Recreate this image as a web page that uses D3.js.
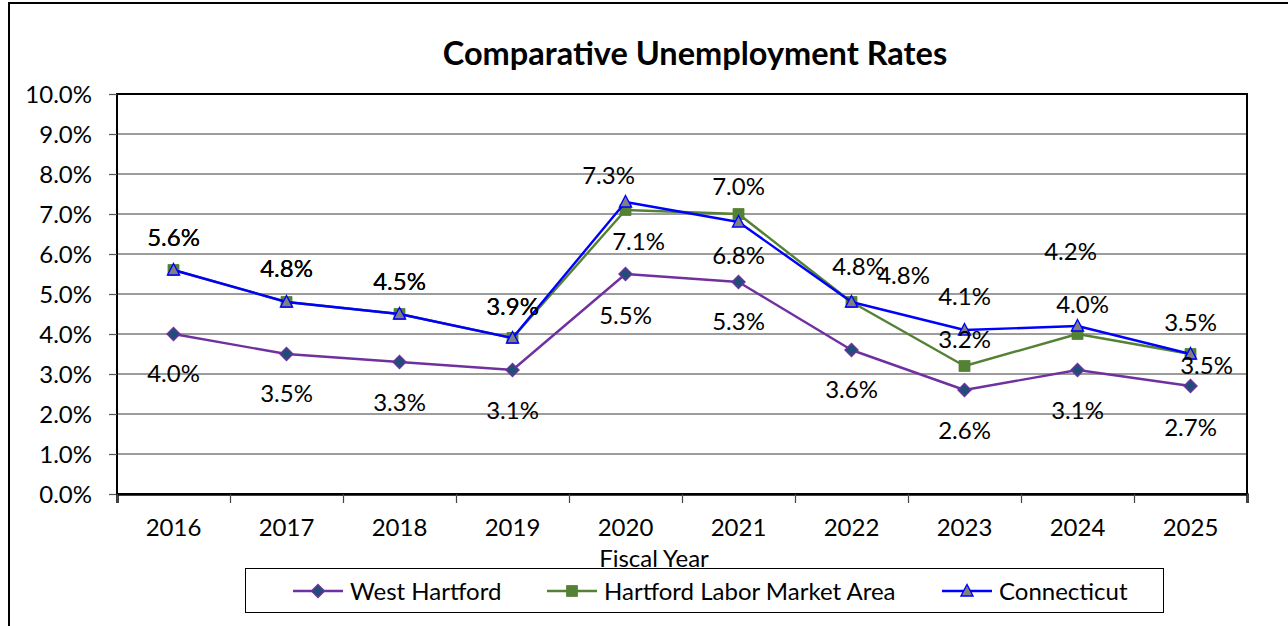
<!DOCTYPE html>
<html>
<head>
<meta charset="utf-8">
<script src="https://cdn.jsdelivr.net/npm/d3@7/dist/d3.min.js"></script>
<style>
  html, body { margin: 0; padding: 0; background: #fff; }
  svg { display: block; }
  text { font-family: Lato, "Open Sans", sans-serif; fill: #000; }
</style>
</head>
<body>
<svg id="chart" width="1288" height="626"></svg>
<script>
// Fiscal years on the category axis
const years = ["2016", "2017", "2018", "2019", "2020", "2021", "2022", "2023", "2024", "2025"];

// Unemployment rates (%)
const westHartford = [4.0, 3.5, 3.3, 3.1, 5.5, 5.3, 3.6, 2.6, 3.1, 2.7];
const hartfordLMA  = [5.6, 4.8, 4.5, 3.9, 7.1, 7.0, 4.8, 3.2, 4.0, 3.5];
const connecticut  = [5.6, 4.8, 4.5, 3.9, 7.3, 6.8, 4.8, 4.1, 4.2, 3.5];

// Value-axis ticks (%)
const yTicks = [0, 1, 2, 3, 4, 5, 6, 7, 8, 9, 10];

// Hand-placed data label nudges [dx, dy] relative to each point
const whLabelNudge   = [[0,39],[0,39],[0,40],[0,40],[0,41],[0,39],[0,39],[0,40],[0,40],[0,41]];
const hlmaLabelNudge = [[0,-33],[0,-34],[0,-33],[0,-32],[13,31],[0,-28],[7,-36],[0,-27],[5,-30],[16,11]];
const ctLabelNudge   = [[0,-33],[0,-34],[0,-33],[0,-32],[-17,-27],[0,33],[52,-27],[0,-34],[-7,-75],[0,-32]];

const svg = d3.select("#chart");
const W = 1288, H = 626;
const plot = { left: 117, right: 1247, top: 94, bottom: 494 };
const FS = 24;

// outer frame (left and top edges)
svg.append("path")
  .attr("d", `M9,${H} L9,3 L${W},3`)
  .attr("fill", "none").attr("stroke", "#000").attr("stroke-width", 2);

// title
svg.append("text")
  .attr("x", 695).attr("y", 65)
  .attr("text-anchor", "middle")
  .attr("font-weight", 700)
  .attr("font-size", 32.5)
  .text("Comparative Unemployment Rates");

const x = d3.scaleBand().domain(years).range([plot.left, plot.right]).padding(0);
const xc = d => x(d) + x.bandwidth() / 2;
const xEdge = d3.scaleLinear().domain([0, years.length]).range([plot.left, plot.right]);
const y = d3.scaleLinear().domain([0, 10]).range([plot.bottom, plot.top]);

// gridlines
svg.append("g")
  .selectAll("line")
  .data(yTicks.filter(t => t > 0 && t < 10))
  .join("line")
  .attr("x1", plot.left).attr("x2", plot.right)
  .attr("y1", d => y(d)).attr("y2", d => y(d))
  .attr("stroke", "#3a3a3a").attr("stroke-width", 1.2);

// plot area frame
svg.append("rect")
  .attr("x", plot.left).attr("y", plot.top)
  .attr("width", plot.right - plot.left).attr("height", plot.bottom - plot.top)
  .attr("fill", "none").attr("stroke", "#000").attr("stroke-width", 2);

// value axis
const yAxis = svg.append("g")
  .attr("transform", `translate(${plot.left},0)`)
  .call(d3.axisLeft(y).tickValues(yTicks).tickFormat(d => d.toFixed(1) + "%").tickSize(8).tickPadding(17));
yAxis.select(".domain").remove();
yAxis.selectAll(".tick line").attr("stroke", "#555").attr("stroke-width", 1.2);
yAxis.selectAll(".tick text")
  .attr("font-family", "Lato, sans-serif").attr("font-size", FS).attr("fill", "#000")
  .attr("dy", "0.36em");

// category axis: ticks between categories, labels centred
const xTickAxis = svg.append("g")
  .attr("transform", `translate(0,${plot.bottom})`)
  .call(d3.axisBottom(xEdge).tickValues(d3.range(years.length + 1)).tickFormat("").tickSize(9));
xTickAxis.select(".domain").attr("stroke", "#000").attr("stroke-width", 2.5);
xTickAxis.selectAll(".tick line").attr("stroke", "#444").attr("stroke-width", 1.2);

const xLabelAxis = svg.append("g")
  .attr("transform", `translate(0,${plot.bottom})`)
  .call(d3.axisBottom(x).tickSize(0).tickPadding(33));
xLabelAxis.select(".domain").remove();
xLabelAxis.selectAll(".tick text")
  .attr("font-family", "Lato, sans-serif").attr("font-size", FS).attr("fill", "#000")
  .attr("dy", "0.36em");

const series = [
  { name: "West Hartford", values: westHartford, nudge: whLabelNudge,
    line: "#7030A0", fill: "#1F4E79", stroke: "#7030A0", shape: "diamond" },
  { name: "Hartford Labor Market Area", values: hartfordLMA, nudge: hlmaLabelNudge,
    line: "#548235", fill: "#548235", stroke: "#548235", shape: "square" },
  { name: "Connecticut", values: connecticut, nudge: ctLabelNudge,
    line: "#0000FF", fill: "#808080", stroke: "#0000FF", shape: "triangle" }
];

function markerPath(shape) {
  if (shape === "diamond") return "M0,-6.5 L6.5,0 L0,6.5 L-6.5,0 Z";
  if (shape === "square") return "M-5.5,-5.5 H5.5 V5.5 H-5.5 Z";
  return "M0,-6.5 L6,5 L-6,5 Z";
}

const line = d3.line().x((d, i) => xc(years[i])).y(d => y(d));

series.forEach(s => {
  const g = svg.append("g");
  g.append("path")
    .attr("d", line(s.values))
    .attr("fill", "none").attr("stroke", s.line).attr("stroke-width", 2.4)
    .attr("stroke-linejoin", "round");
  g.selectAll("path.mk")
    .data(s.values)
    .join("path")
    .attr("class", "mk")
    .attr("transform", (d, i) => `translate(${xc(years[i])},${y(d)})`)
    .attr("d", markerPath(s.shape))
    .attr("fill", s.fill).attr("stroke", s.stroke)
    .attr("stroke-width", s.shape === "square" ? 0.8 : 1.4);
});

// data labels
series.forEach(s => {
  svg.append("g")
    .selectAll("text")
    .data(s.values)
    .join("text")
    .attr("x", (d, i) => xc(years[i]) + s.nudge[i][0])
    .attr("y", (d, i) => y(d) + s.nudge[i][1])
    .attr("dy", "0.36em")
    .attr("text-anchor", "middle")
    .attr("font-size", FS)
    .text(d => d.toFixed(1) + "%");
});

// legend
const legend = svg.append("g");
legend.append("rect")
  .attr("x", 245.5).attr("y", 568.5).attr("width", 918).attr("height", 44)
  .attr("fill", "#fff").attr("stroke", "#000").attr("stroke-width", 1);
const legendX = [293, 547, 942];
series.forEach((s, i) => {
  const gx = legendX[i];
  legend.append("line")
    .attr("x1", gx).attr("x2", gx + 50).attr("y1", 591).attr("y2", 591)
    .attr("stroke", s.line).attr("stroke-width", 2.4);
  legend.append("path")
    .attr("transform", `translate(${gx + 25},591)`)
    .attr("d", markerPath(s.shape))
    .attr("fill", s.fill).attr("stroke", s.stroke)
    .attr("stroke-width", s.shape === "square" ? 0.8 : 1.4);
  legend.append("text")
    .attr("x", gx + 57).attr("y", 591).attr("dy", "0.36em")
    .attr("font-size", FS)
    .text(s.name);
});

// axis title, drawn over the legend's top edge
svg.append("text")
  .attr("x", 654).attr("y", 567)
  .attr("text-anchor", "middle")
  .attr("font-size", FS)
  .text("Fiscal Year");
</script>
</body>
</html>
